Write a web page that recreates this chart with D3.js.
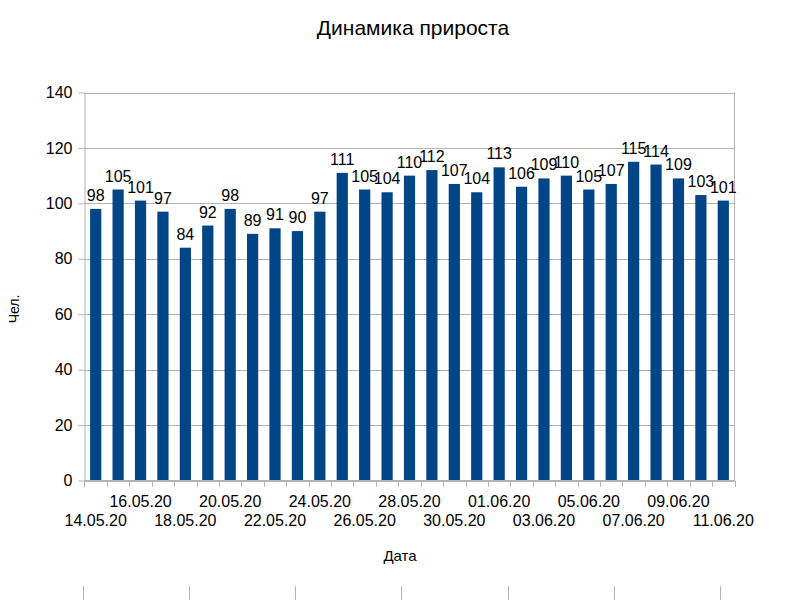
<!DOCTYPE html>
<html>
<head>
<meta charset="utf-8">
<script src="https://cdn.jsdelivr.net/npm/d3@7"></script>
<style>
  html,body{margin:0;padding:0;background:#fff;}
  svg{display:block;font-family:"Liberation Sans",Arial,sans-serif;}
</style>
</head>
<body>
<svg id="chart" width="800" height="600"></svg>
<script>
// ---- data ----
const dates = ['14.05.20','15.05.20','16.05.20','17.05.20','18.05.20','19.05.20','20.05.20','21.05.20',
  '22.05.20','23.05.20','24.05.20','25.05.20','26.05.20','27.05.20','28.05.20','29.05.20','30.05.20',
  '31.05.20','01.06.20','02.06.20','03.06.20','04.06.20','05.06.20','06.06.20','07.06.20','08.06.20',
  '09.06.20','10.06.20','11.06.20'];
const values = [98,105,101,97,84,92,98,89,91,90,97,111,105,104,110,112,107,104,113,106,109,110,105,107,115,114,109,103,101];
const yTicks = [0,20,40,60,80,100,120,140];
const title = 'Динамика прироста';
const xTitle = 'Дата';
const yTitle = 'Чел.';

// ---- layout ----
const L = 84.5, R = 734.5, T = 92.5, B = 480.5;
const BAR = '#004586', GRID = '#b3b3b3';
const FS = 16;
const svg = d3.select('#chart');

const x = d3.scaleBand().domain(dates).range([L, R]).paddingInner(0.5).paddingOuter(0.25);
const y = d3.scaleLinear().domain([0, 140]).range([B, T]);
const gap = (x.step() - x.bandwidth()) / 2;

// gridlines
svg.append('g').selectAll('line').data(yTicks).join('line')
  .attr('x1', L).attr('x2', R)
  .attr('y1', d => Math.round(y(d)) + 0.5).attr('y2', d => Math.round(y(d)) + 0.5)
  .attr('stroke', GRID).attr('stroke-width', 1);
// right border
svg.append('line').attr('x1', R).attr('x2', R).attr('y1', T).attr('y2', B)
  .attr('stroke', GRID);

// y axis
const yAxis = svg.append('g').attr('transform', `translate(${L},0)`)
  .call(d3.axisLeft(y).tickValues(yTicks).tickSize(6).tickPadding(6).tickSizeOuter(0));
yAxis.select('.domain').attr('stroke', GRID);
yAxis.selectAll('.tick line').attr('stroke', GRID);
yAxis.selectAll('.tick text').attr('font-size', FS).attr('fill', '#000')
  .attr('font-family', '"Liberation Sans",Arial,sans-serif');

// bars
svg.append('g').selectAll('rect').data(values).join('rect')
  .attr('x', (d, i) => x(dates[i]))
  .attr('width', x.bandwidth())
  .attr('y', d => y(d))
  .attr('height', d => y(0) - y(d))
  .attr('fill', BAR);

// x axis line + ticks at category boundaries
svg.append('line').attr('x1', L).attr('x2', R).attr('y1', B).attr('y2', B).attr('stroke', GRID);
const bounds = dates.map(d => x(d) - gap).concat([x(dates[dates.length - 1]) + x.bandwidth() + gap]);
svg.append('g').selectAll('line').data(bounds).join('line')
  .attr('x1', d => Math.round(d) + 0.5).attr('x2', d => Math.round(d) + 0.5)
  .attr('y1', B).attr('y2', B + 6.5)
  .attr('stroke', GRID);

// x labels, every 2nd date, staggered into two rows
svg.append('g').selectAll('text').data(dates.filter((d, i) => i % 2 === 0)).join('text')
  .attr('x', d => x(d) + x.bandwidth() / 2)
  .attr('y', (d, i) => i % 2 === 0 ? 526 : 507)
  .attr('text-anchor', 'middle').attr('font-size', FS).attr('fill', '#000')
  .text(d => d);

// value labels
svg.append('g').selectAll('text').data(values).join('text')
  .attr('x', (d, i) => x(dates[i]) + x.bandwidth() / 2)
  .attr('y', d => y(d) - 8)
  .attr('text-anchor', 'middle').attr('font-size', FS).attr('fill', '#000')
  .text(d => d);

// titles
svg.append('text').attr('x', 413).attr('y', 35).attr('text-anchor', 'middle')
  .attr('font-size', 21).attr('fill', '#000').text(title);
svg.append('text').attr('x', 400).attr('y', 561).attr('text-anchor', 'middle')
  .attr('font-size', 15).attr('fill', '#000').text(xTitle);
svg.append('text').attr('transform', 'translate(19,309) rotate(-90)').attr('text-anchor', 'middle')
  .attr('font-size', 14).attr('fill', '#000').text(yTitle);

// marks cut off at the bottom edge (neighbouring object)
const edgeMarks = d3.range(7).map(i => 82.5 + i * 106.3);
svg.append('g').selectAll('line').data(edgeMarks).join('line')
  .attr('x1', d => Math.round(d) + 0.5).attr('x2', d => Math.round(d) + 0.5)
  .attr('y1', 586).attr('y2', 600)
  .attr('stroke', GRID);
</script>
</body>
</html>
